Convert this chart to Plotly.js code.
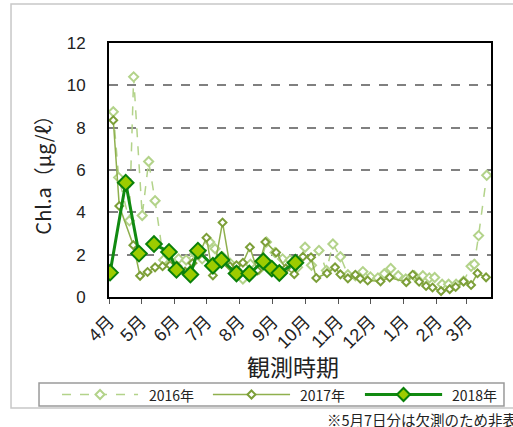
<!DOCTYPE html>
<html>
<head>
<meta charset="utf-8">
<script src="https://cdn.plot.ly/plotly-3.0.1.min.js"></script>
<style>
html,body{margin:0;padding:0;background:#fff;}
#chart{width:513px;height:427px;}
</style>
</head>
<body>
<div id="chart"></div>
<script>
// Days counted from April 1
const monthTickDays = [0, 30, 61, 91, 122, 153, 183, 214, 244, 275, 306, 334];
const monthLabels = ["4月","5月","6月","7月","8月","9月","10月","11月","12月","1月","2月","3月"];

const days2016 = [4, 9, 19, 23, 31, 37, 43, 51, 58, 65, 72, 80, 87, 94, 99, 106, 113, 119, 125, 132, 140, 147, 155, 162, 169, 176, 183, 189, 196, 203, 209, 216, 223, 230, 237, 244, 251, 257, 263, 270, 277, 285, 293, 299, 304, 311, 317, 324, 331, 338, 341, 345, 352.6];
const vals2016 = [8.75, 5.65, 3.6, 10.4, 3.85, 6.4, 4.55, 1.75, 1.55, 1.8, 1.75, 2.05, 1.8, 2.6, 2.28, 1.9, 1.6, 1.3, 0.85, 1.55, 1.3, 2.6, 2.1, 1.8, 1.75, 1.4, 2.35, 1.5, 2.2, 1.25, 2.5, 1.9, 1.05, 1.0, 1.2, 0.95, 0.9, 1.1, 1.35, 1.0, 0.85, 1.0, 1.0, 0.9, 0.92, 0.6, 0.6, 0.6, 0.75, 1.45, 1.55, 2.9, 5.75];

const days2017 = [4, 9.6, 22.7, 29, 36, 43, 50, 57, 64, 71, 78, 84, 91, 97, 106, 113, 119, 125, 131.5, 138.6, 146, 156, 165, 173, 181, 188.6, 193.5, 203.5, 211, 216, 223, 230, 234.5, 241.5, 253.5, 262, 277.5, 283.5, 289.5, 296, 302, 310, 318, 323.6, 331, 338, 344, 352];
const vals2017 = [8.35, 4.3, 2.45, 1.0, 1.18, 1.4, 1.45, 1.5, 1.45, 1.2, 1.6, 2.0, 2.8, 1.02, 3.52, 1.45, 1.5, 1.62, 2.35, 1.25, 2.6, 2.1, 1.35, 1.08, 1.9, 1.88, 0.9, 1.12, 1.4, 1.07, 0.88, 1.05, 0.87, 0.78, 0.74, 0.92, 0.7, 1.05, 0.72, 0.52, 0.45, 0.28, 0.37, 0.47, 0.73, 0.57, 1.12, 0.93];

// 5月7日 (day 36) missing -> null
const days2018 = [1, 15.6, 28, 36, 42, 56, 63, 76, 83, 97, 105, 119, 131, 144, 152, 159, 174];
const vals2018 = [1.15, 5.4, 2.05, null, 2.5, 2.13, 1.28, 1.06, 2.19, 1.48, 1.75, 1.11, 1.11, 1.69, 1.34, 1.13, 1.62];

const seriesNames = ["2016年", "2017年", "2018年"];

const FONT = "Liberation Sans, Arial, Noto Sans CJK JP, sans-serif";
const JFONT = "Noto Sans CJK JP, Liberation Sans, sans-serif";

const styles = [
  {line: {color: "#b3d38a", width: 1.5, dash: "dash"},
   marker: {symbol: "diamond", size: 7, color: "#ffffff", line: {color: "#b3d38a", width: 2}}, half: 4.5, fill: "#ffffff", mline: "#b3d38a", mw: 2},
  {line: {color: "#8fb04e", width: 1.5},
   marker: {symbol: "diamond", size: 6, color: "#ffffff", line: {color: "#7c9f38", width: 2}}, half: 4, fill: "#ffffff", mline: "#7c9f38", mw: 2},
  {line: {color: "#118a11", width: 3},
   marker: {symbol: "diamond", size: 12, color: "#9ccc00", line: {color: "#0a800a", width: 2}}, half: 6.5, fill: "#9ccc00", mline: "#0a800a", mw: 2}
];

const xs = [days2016, days2017, days2018];
const ys = [vals2016, vals2017, vals2018];

const traces = xs.map((x, i) => ({
  x: x, y: ys[i], name: seriesNames[i], type: "scatter", mode: "lines+markers",
  connectgaps: false, showlegend: false,
  line: styles[i].line, marker: styles[i].marker
}));

// Custom legend layout (paper coordinates)
const legendLine = [[-0.123, 0.076], [0.272, 0.474], [0.670, 0.872]];
const legendTextX = [0.0995, 0.495, 0.893];
const legendY = -0.384;

const shapes = [
  {type: "rect", xref: "paper", yref: "paper", x0: -0.2565, x1: 1.07, y0: -0.437, y1: 1.1535,
   line: {color: "#c8c8c8", width: 1.5}, fillcolor: "rgba(0,0,0,0)", layer: "below"},
  {type: "rect", xref: "paper", yref: "paper", x0: -0.1832, x1: 1.034, y0: -0.429, y1: -0.3386,
   line: {color: "#9a9a9a", width: 1.5}, fillcolor: "#ffffff"}
];
const annotations = [
  {text: "観測時期", xref: "paper", yref: "paper", x: (292.5 - 109) / 382, y: (297 - 366) / 254,
   xanchor: "center", yanchor: "middle", showarrow: false,
   font: {size: 23, family: JFONT, color: "#222"}},
  {text: "※5月7日分は欠測のため非表示", xref: "paper", yref: "paper", x: (325 - 109) / 382, y: -0.482,
   xanchor: "left", yanchor: "middle", showarrow: false,
   font: {size: 14.5, family: JFONT, color: "#222"}}
];
seriesNames.forEach((nm, i) => {
  const st = styles[i];
  shapes.push({type: "line", xref: "paper", yref: "paper",
    x0: legendLine[i][0], x1: legendLine[i][1], y0: legendY, y1: legendY,
    line: {color: st.line.color, width: st.line.width, dash: st.line.dash || "solid"}});
  const h = st.half;
  shapes.push({type: "path", xref: "paper", yref: "paper",
    xsizemode: "pixel", ysizemode: "pixel",
    xanchor: (legendLine[i][0] + legendLine[i][1]) / 2, yanchor: legendY,
    path: `M ${-h} 0 L 0 ${h} L ${h} 0 L 0 ${-h} Z`,
    fillcolor: st.fill, line: {color: st.mline, width: st.mw}});
  annotations.push({text: nm, xref: "paper", yref: "paper", x: legendTextX[i], y: legendY,
    xanchor: "left", yanchor: "middle", showarrow: false,
    font: {size: 14, family: JFONT, color: "#222"}});
});

const layout = {
  width: 513, height: 427,
  margin: {l: 109, r: 22, t: 43, b: 130},
  paper_bgcolor: "#ffffff", plot_bgcolor: "#ffffff",
  showlegend: false,
  font: {family: FONT, color: "#222"},
  xaxis: {
    automargin: false,
    range: [0, 356.6], tickmode: "array", tickvals: monthTickDays, ticktext: monthLabels,
    tickangle: -45, tickfont: {size: 18, family: FONT, color: "#222"},
    ticks: "outside", ticklen: 5, tickcolor: "#555", tickwidth: 1,
    showline: true, linecolor: "#000", linewidth: 2, mirror: true,
    showgrid: false, zeroline: false
  },
  yaxis: {
    automargin: false,
    range: [0, 12], dtick: 2, tick0: 0,
    tickfont: {size: 17, family: FONT, color: "#222"},
    ticks: "", ticklabelstandoff: 18,
    showline: true, linecolor: "#000", linewidth: 2, mirror: true,
    showgrid: true, gridcolor: "#808080", gridwidth: 2, griddash: "dash",
    zeroline: false,
    title: {text: "Chl.a（μg/ℓ）", font: {size: 20, family: JFONT, color: "#222"}, standoff: 10}
  },
  shapes: shapes,
  annotations: annotations
};

Plotly.newPlot("chart", traces, layout, {displayModeBar: false, staticPlot: true});
</script>
</body>
</html>
